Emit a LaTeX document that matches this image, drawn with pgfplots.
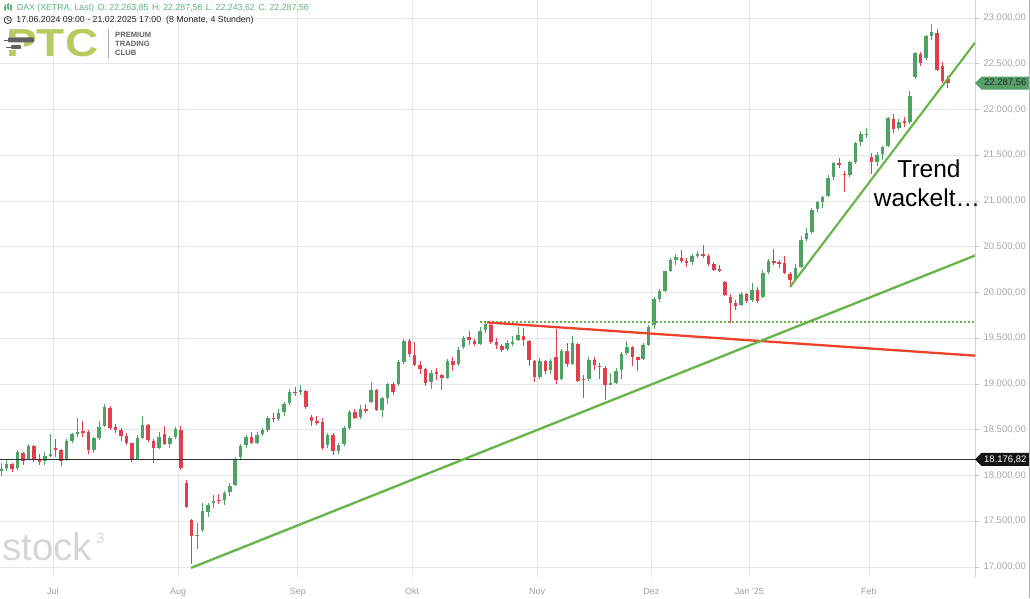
\documentclass[border=0pt]{standalone}
\usepackage{fontspec}
\setmainfont{Liberation Sans}
\usepackage{pgfplots}
\usepackage{pgfplotstable}
\pgfplotsset{compat=1.18}

\definecolor{cup}{RGB}{78,163,100}
\definecolor{cdn}{RGB}{226,62,78}
\definecolor{tgreen}{RGB}{100,180,72}
\definecolor{tred}{RGB}{238,66,44}
\definecolor{hdr}{RGB}{92,180,120}
\definecolor{logo}{RGB}{182,204,96}
\definecolor{gridc}{RGB}{230,231,238}
\definecolor{tagg}{RGB}{84,160,104}

% DAX daily candles, i = trading day since 17.06.2024
\pgfplotstableread{
i o h l c
0 18050 18140 18000 18068
1 18080 18170 18050 18131
2 18130 18140 18040 18067
3 18080 18280 18060 18254
4 18250 18260 18120 18163
5 18180 18340 18170 18325
6 18320 18330 18150 18177
7 18170 18230 18110 18155
8 18160 18260 18120 18210
9 18220 18450 18200 18235
10 18300 18400 18200 18290
11 18280 18290 18100 18164
12 18170 18400 18160 18374
13 18380 18460 18360 18450
14 18460 18630 18420 18475
15 18480 18600 18420 18472
16 18470 18500 18230 18280
17 18280 18420 18250 18407
18 18410 18600 18390 18534
19 18540 18780 18530 18748
20 18740 18760 18500 18518
21 18530 18560 18460 18500
22 18500 18520 18380 18437
23 18430 18460 18330 18354
24 18350 18360 18150 18171
25 18180 18440 18170 18407
26 18410 18650 18400 18557
27 18550 18560 18370 18387
28 18380 18400 18140 18298
29 18300 18480 18290 18418
30 18450 18540 18330 18340
31 18340 18430 18300 18410
32 18420 18530 18400 18508
33 18500 18540 18060 18083
34 17920 17950 17640 17661
35 17510 17520 17030 17339
36 17340 17480 17200 17354
37 17400 17700 17380 17615
38 17600 17700 17550 17680
39 17700 17790 17650 17723
40 17730 17800 17690 17726
41 17730 17830 17680 17812
42 17820 17920 17780 17885
43 17900 18200 17880 18183
44 18200 18340 18180 18322
45 18330 18440 18300 18421
46 18420 18470 18340 18357
47 18360 18470 18340 18448
48 18450 18520 18430 18493
49 18500 18650 18480 18633
50 18630 18680 18580 18617
51 18620 18730 18600 18681
52 18690 18800 18650 18782
53 18790 18950 18770 18912
54 18910 18970 18870 18906
55 18910 18990 18880 18930
56 18920 18930 18730 18747
57 18640 18660 18540 18592
58 18600 18650 18550 18576
59 18580 18630 18280 18301
60 18330 18460 18300 18443
61 18440 18460 18220 18266
62 18270 18360 18240 18330
63 18340 18540 18320 18518
64 18520 18720 18500 18699
65 18690 18730 18620 18633
66 18640 18770 18620 18726
67 18730 18780 18680 18711
68 18800 19020 18790 18937
69 18930 18940 18700 18720
70 18720 18860 18640 18847
71 18850 19010 18780 18996
72 19000 19020 18880 18918
73 19000 19260 18980 19238
74 19240 19490 19220 19474
75 19470 19490 19300 19325
76 19320 19460 19200 19213
77 19210 19250 19110 19165
78 19160 19180 18980 19015
79 19020 19150 18950 19120
80 19130 19180 19040 19104
81 19100 19110 18930 19066
82 19070 19270 19050 19254
83 19250 19290 19140 19210
84 19220 19400 19200 19373
85 19400 19520 19380 19508
86 19510 19580 19430 19486
87 19470 19490 19410 19432
88 19440 19620 19430 19583
89 19590 19675 19560 19657
90 19650 19660 19440 19461
91 19460 19500 19380 19421
92 19420 19440 19350 19377
93 19380 19480 19360 19443
94 19440 19520 19410 19464
95 19480 19620 19470 19531
96 19530 19610 19420 19479
97 19470 19480 19200 19257
98 19250 19260 19020 19078
99 19080 19280 19060 19255
100 19250 19260 19110 19147
101 19150 19270 19110 19256
102 19290 19600 19000 19039
103 19050 19380 19040 19362
104 19360 19450 19190 19215
105 19220 19520 19210 19448
106 19440 19450 19020 19034
107 19060 19100 18850 19039
108 19050 19300 19030 19263
109 19260 19290 19150 19211
110 19200 19230 19050 19189
111 19180 19200 18830 18988
112 19000 19120 18990 19005
113 19010 19180 19000 19146
114 19150 19350 19050 19323
115 19340 19470 19320 19406
116 19400 19420 19200 19296
117 19290 19300 19140 19262
118 19270 19450 19260 19426
119 19430 19650 19420 19626
120 19650 19950 19600 19934
121 19930 20040 19900 20016
122 20020 20240 20000 20232
123 20240 20380 20220 20359
124 20360 20420 20300 20385
125 20380 20460 20320 20346
126 20340 20380 20280 20330
127 20330 20420 20300 20399
128 20400 20450 20380 20426
129 20420 20520 20380 20406
130 20400 20420 20290 20314
131 20310 20330 20230 20246
132 20250 20300 20220 20243
133 20110 20130 19960 19970
134 19950 19980 19670 19885
135 19880 19920 19810 19849
136 19860 20000 19850 19984
137 19980 20000 19890 19909
138 19920 20100 19900 20025
139 20030 20060 19880 19906
140 19950 20250 19940 20217
141 20220 20370 20200 20340
142 20340 20480 20300 20329
143 20330 20360 20270 20317
144 20320 20400 20200 20215
145 20200 20220 20060 20133
146 20140 20310 20130 20271
147 20280 20620 20270 20575
148 20580 20700 20560 20655
149 20660 20920 20640 20903
150 20910 21000 20880 20990
151 20990 21060 20920 21042
152 21050 21280 21040 21254
153 21260 21430 21230 21411
154 21410 21470 21360 21395
155 21300 21330 21100 21282
156 21280 21440 21260 21430
157 21430 21640 21400 21637
158 21640 21760 21600 21727
159 21730 21800 21690 21732
160 21480 21520 21300 21428
161 21430 21540 21380 21505
162 21510 21600 21450 21586
163 21600 21920 21590 21902
164 21900 21950 21740 21787
165 21800 21900 21780 21868
166 21870 21920 21810 21853
167 21860 22200 21840 22149
168 22350 22630 22330 22612
169 22610 22630 22470 22513
170 22560 22810 22540 22798
171 22800 22935 22760 22845
172 22840 22880 22420 22434
173 22480 22520 22290 22314
174 22330 22370 22240 22288
}\dax

\pgfplotsset{
  wick/.style={forget plot, draw=none, no marks,
    error bars/y dir=both, error bars/y explicit, error bars/error mark=none,
    error bars/error bar style={draw=#1, line width=0.9pt}},
  body/.style={forget plot, draw=none, no marks,
    error bars/y dir=both, error bars/y explicit, error bars/error mark=none,
    error bars/error bar style={draw=#1, line width=3.5pt}},
}

\begin{document}
\begin{tikzpicture}
\useasboundingbox (0,-21pt) rectangle (1030pt,577pt);
\begin{axis}[
  at={(0,0)}, anchor=south west, scale only axis,
  width=975pt, height=577pt,
  xmin=-0.24, xmax=178.99, ymin=16890.7, ymax=23196.7,
  clip mode=individual,
  axis y line*=right, axis x line*=bottom,
  x axis line style={draw=none},
  y axis line style={draw=gray!35, line width=0.8pt},
  xtick={9.5,32.5,54.5,75.5,98.5,119.5,137.5,159.5},
  xticklabels={Jul,Aug,Sep,Okt,Nov,Dez,{Jan ’25},Feb},
  xtick style={draw=none},
  xticklabel style={anchor=base, yshift=-13pt, font=\fontsize{9}{10}\selectfont, text=gray!75},
  ytick={17000,17500,...,23000},
  scaled y ticks=false,
  ytick style={draw=gray!45, line width=0.6pt},
  tick align=outside, major tick length=4pt,
  grid=major, grid style={draw=gridc, line width=0.8pt},
  yticklabel style={font=\fontsize{9.5}{11}\selectfont, text=gray!70, xshift=1pt,
    /pgf/number format/.cd, fixed, fixed zerofill, precision=2, use comma, 1000 sep={.}, assume math mode=true},
]
% wicks (rising / falling days)
\addplot[wick=cup] table[x=i,
  y expr={\thisrow{c}<\thisrow{o} ? nan : (\thisrow{h}+\thisrow{l})/2},
  y error expr={(\thisrow{h}-\thisrow{l})/2}]{\dax};
\addplot[wick=cdn] table[x=i,
  y expr={\thisrow{c}<\thisrow{o} ? (\thisrow{h}+\thisrow{l})/2 : nan},
  y error expr={(\thisrow{h}-\thisrow{l})/2}]{\dax};
% bodies
\addplot[body=cup] table[x=i,
  y expr={\thisrow{c}<\thisrow{o} ? nan : (\thisrow{o}+\thisrow{c})/2},
  y error expr={max(abs(\thisrow{c}-\thisrow{o})/2,5)}]{\dax};
\addplot[body=cdn] table[x=i,
  y expr={\thisrow{c}<\thisrow{o} ? (\thisrow{o}+\thisrow{c})/2 : nan},
  y error expr={max(abs(\thisrow{c}-\thisrow{o})/2,5)}]{\dax};

% reference lines
\addplot[black!80, line width=0.9pt] coordinates {(-0.24,18176.82) (178.99,18176.82)};
\addplot[tgreen, line width=1.6pt, dash pattern=on 1.6pt off 2.4pt] coordinates {(88.0,19680) (178.99,19680)};
\addplot[tred, line width=2.3pt] coordinates {(89.28,19673) (178.99,19310)};
\addplot[tgreen, line width=2.3pt] coordinates {(34.87,16990) (178.99,20404)};
\addplot[tgreen, line width=2.1pt] coordinates {(144.98,20060) (178.99,22730)};

\coordinate (pA) at (axis cs:178.99,22287.56);
\coordinate (pB) at (axis cs:178.99,18176.82);
\end{axis}

% price tags
\fill[tagg] (pA) -- ++(6.5pt,6.5pt) -- ++(48.5pt,0) -- ++(0,-13pt) -- ++(-48.5pt,0) -- cycle;
\node[anchor=west, inner sep=0, font=\fontsize{9.5}{11}\selectfont, text=black!85] at ([xshift=9pt]pA) {22.287,56};
\fill[black!92] (pB) -- ++(6.5pt,6.5pt) -- ++(48.5pt,0) -- ++(0,-13pt) -- ++(-48.5pt,0) -- cycle;
\node[anchor=west, inner sep=0, font=\fontsize{9.5}{11}\selectfont, text=white] at ([xshift=9pt]pB) {18.176,82};

\begin{scope}[x=1pt, y=-1pt, yshift=577pt]
  % header
  \fill[hdr] (4.2,6) rectangle (5.6,10.5);
  \draw[hdr, line width=0.5pt] (4.9,4.5) -- (4.9,11.5);
  \fill[hdr] (7.3,4.5) rectangle (8.7,9);
  \draw[hdr, line width=0.5pt] (8,3.5) -- (8,10);
  \fill[hdr] (10.4,5.5) rectangle (11.8,10);
  \draw[hdr, line width=0.5pt] (11.1,4.5) -- (11.1,11);
  \node[anchor=base west, inner sep=0, font=\fontsize{8.8}{10}\selectfont, text=hdr] at (16.7,10.7)
    {DAX (XETRA, Last)\hspace{3.5pt}O: 22.263,85\hspace{3.5pt}H: 22.287,56\hspace{3.5pt}L: 22.243,62\hspace{3.5pt}C: 22.287,56};
  \draw[black!80, line width=0.8pt] (7.8,20) circle (3.6);
  \draw[black!80, line width=0.7pt] (7.8,17.8) -- (7.8,20) -- (9.4,21);
  \node[anchor=base west, inner sep=0, font=\fontsize{8.8}{10}\selectfont, text=black!85] at (16.2,22.7)
    {17.06.2024 09:00 - 21.02.2025 17:00\ \ (8 Monate, 4 Stunden)};
  % logo
  \node[anchor=base west, inner sep=0, xscale=1.18, font=\fontsize{39}{40}\selectfont\bfseries, text=logo] at (6,57) {PTC};
  \fill[white] (3,37) rectangle (24,50);
  \fill[black!62, rounded corners=1pt] (8,37.5) rectangle (34,42.5);
  \fill[black!62, rounded corners=0.8pt] (11,45) rectangle (21,49);
  \draw[black!62, line width=0.8pt] (4,40) -- (8,40);
  \draw[black!62, line width=0.8pt] (6,47) -- (11,47);
  \draw[gray!60, line width=0.7pt] (108.5,29) -- (108.5,58);
  \node[anchor=base west, inner sep=0, font=\fontsize{7.6}{9}\selectfont\bfseries, text=black!62] at (115,37.3) {PREMIUM};
  \node[anchor=base west, inner sep=0, font=\fontsize{7.6}{9}\selectfont\bfseries, text=black!62] at (115,46.7) {TRADING};
  \node[anchor=base west, inner sep=0, font=\fontsize{7.6}{9}\selectfont\bfseries, text=black!62] at (115,55.7) {CLUB};
  % watermark
  \node[anchor=base west, inner sep=0, font=\fontsize{38.5}{40}\selectfont, text=black!16] at (2,560) {stock};
  \node[anchor=base west, inner sep=0, font=\fontsize{15}{16}\selectfont, text=black!16] at (96,543) {3};
  % annotation
  \node[anchor=base, inner sep=0, font=\fontsize{24.5}{28}\selectfont] at (929,178) {Trend};
  \node[anchor=base, inner sep=0, font=\fontsize{24.5}{28}\selectfont] at (927,207) {wackelt…};
  % frame edge
  \draw[gray!60, line width=1pt] (1029.5,0) -- (1029.5,598);
\end{scope}
\end{tikzpicture}
\end{document}
